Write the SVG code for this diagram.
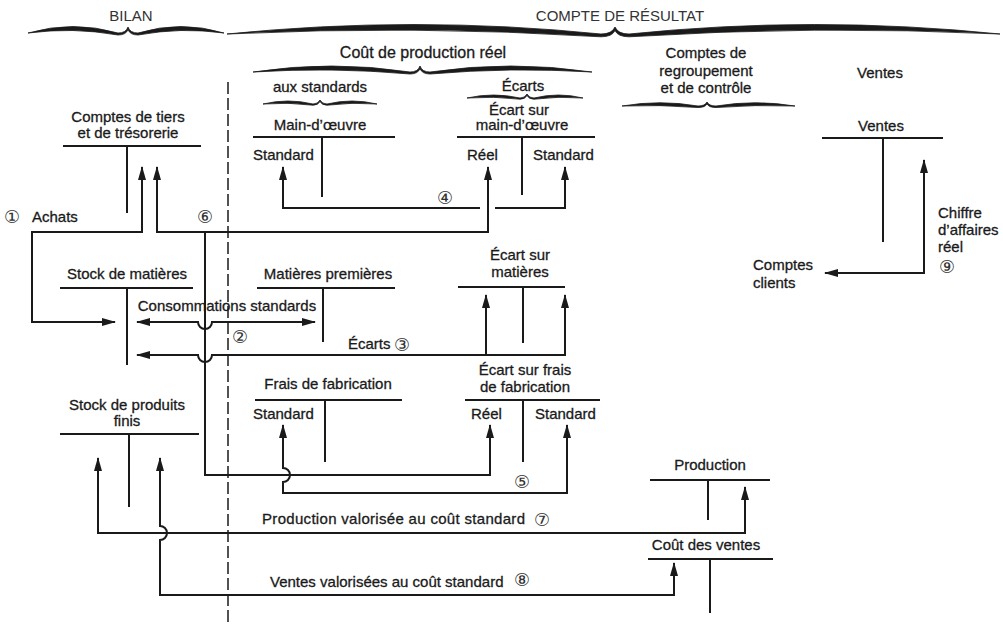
<svg xmlns="http://www.w3.org/2000/svg" width="1003" height="624" viewBox="0 0 1003 624">
<defs>
<style>
text{font-family:"Liberation Sans",Arial,sans-serif;font-size:15px;fill:#1a1a1a;stroke:#1a1a1a;stroke-width:0.3}
.hd{font-size:15px;fill:#333;stroke:none}
.c{text-anchor:middle}
.n{font-family:"DejaVu Sans",sans-serif;font-size:18px;text-anchor:middle;fill:#333;stroke:none}
.ln{stroke:#1a1a1a;stroke-width:2;fill:none}
.cn{stroke:#1a1a1a;stroke-width:2;fill:none;marker-start:url(#ah);marker-end:url(#ah)}
.ce{stroke:#1a1a1a;stroke-width:2;fill:none;marker-end:url(#ah)}
.br{fill:#1a1a1a;stroke:#1a1a1a;stroke-width:0.8}
</style>
<marker id="ah" viewBox="0 0 14 8" refX="13" refY="4" markerWidth="14" markerHeight="8" markerUnits="userSpaceOnUse" orient="auto-start-reverse"><path d="M0,0 L14,4 L0,8 Z" fill="#1a1a1a"/></marker>
</defs>
<rect width="1003" height="624" fill="#fff"/>

<g id="headers">
<text class="hd c" x="131" y="21">BILAN</text>
<text class="hd c" x="620" y="21">COMPTE DE RÉSULTAT</text>
<path class="br" d="M28,33 Q73,20 118,33 Q126,33 128,27 Q130,33 138,33 Q181,20 224,33 Q181,27 138,35 Q130,35 128,29.6 Q126,35 118,35 Q73,27 28,33 Z"/>
<path class="br" d="M227,34 Q414,15 601,34 Q612,34 615,27 Q618,34 629,34 Q814.5,15 1000,34 Q814.5,25 629,36.8 Q618,36.8 615,30.6 Q612,36.8 601,36.8 Q414,25 227,34 Z"/>
<text class="c" x="423" y="58" style="font-size:16px">Coût de production réel</text>
<path class="br" d="M253,72 Q331.5,60 410,72 Q418,72 420,66 Q422,72 430,72 Q511,60 592,72 Q511,67 430,74 Q422,74 420,68.6 Q418,74 410,74 Q331.5,67 253,72 Z"/>
<text class="c" x="320" y="92">aux standards</text>
<path class="br" d="M263,104 Q288,98 313,104 Q318,104 320,100 Q322,104 327,104 Q352,98 377,104 Q352,102 327,105.2 Q322,105.2 320,101.6 Q318,105.2 313,105.2 Q288,102 263,104 Z"/>
<text class="c" x="523" y="91">Écarts</text>
<path class="br" d="M467,98 Q493.5,92 520,98 Q525,98 527,94 Q529,98 534,98 Q558.5,92 583,98 Q558.5,96 534,99.2 Q529,99.2 527,95.6 Q525,99.2 520,99.2 Q493.5,96 467,98 Z"/>
<text class="c" x="706" y="58">Comptes de</text>
<text class="c" x="706" y="76">regroupement</text>
<text class="c" x="706" y="93">et de contrôle</text>
<path class="br" d="M622,106 Q660,99.5 698,106 Q705,106 707,102 Q709,106 716,106 Q755.5,99.5 795,106 Q755.5,104.5 716,107.5 Q709,107.5 707,104 Q705,107.5 698,107.5 Q660,104.5 622,106 Z"/>
<text class="c" x="880" y="78">Ventes</text>
<line x1="228" y1="82" x2="228" y2="624" stroke="#1a1a1a" stroke-width="1.5" stroke-dasharray="12,4"/>
</g>

<g id="tiers">
<text class="c" x="128" y="122">Comptes de tiers</text>
<text class="c" x="128" y="138">et de trésorerie</text>
<path class="ln" d="M63,146 H201 M127,146 V213"/>
</g>
<g id="stock-matieres">
<text class="c" x="127" y="279">Stock de matières</text>
<path class="ln" d="M60,288 H193 M127,288 V365"/>
</g>
<g id="stock-produits-finis">
<text class="c" x="127" y="410">Stock de produits</text>
<text class="c" x="127" y="426">finis</text>
<path class="ln" d="M60,434 H199 M129,434 V507"/>
</g>
<g id="main-oeuvre">
<text class="c" x="320" y="130">Main-d’œuvre</text>
<text x="253" y="160">Standard</text>
<path class="ln" d="M253,137 H395 M322,137 V197"/>
</g>
<g id="ecart-main-oeuvre">
<text class="c" x="519" y="115">Écart sur</text>
<text class="c" x="522" y="130">main-d’œuvre</text>
<text x="467" y="160">Réel</text>
<text x="533" y="160">Standard</text>
<path class="ln" d="M457,137 H595 M522,137 V195"/>
</g>
<g id="matieres-premieres">
<text class="c" x="328" y="279">Matières premières</text>
<path class="ln" d="M257,288 H395 M323,288 V342"/>
</g>
<g id="ecart-matieres">
<text class="c" x="520" y="260">Écart sur</text>
<text class="c" x="520" y="277">matières</text>
<path class="ln" d="M458,287 H565 M523,287 V343"/>
</g>
<g id="frais-fabrication">
<text class="c" x="328" y="389">Frais de fabrication</text>
<text x="253" y="419">Standard</text>
<path class="ln" d="M255,400 H402 M325,400 V462"/>
</g>
<g id="ecart-frais-fabrication">
<text class="c" x="525" y="375">Écart sur frais</text>
<text class="c" x="525" y="392">de fabrication</text>
<text x="471" y="419">Réel</text>
<text x="535" y="419">Standard</text>
<path class="ln" d="M465,400 H600 M523,400 V462"/>
</g>
<g id="production">
<text class="c" x="710" y="470">Production</text>
<path class="ln" d="M650,480 H770 M708,480 V520"/>
</g>
<g id="cout-ventes">
<text class="c" x="706" y="550">Coût des ventes</text>
<path class="ln" d="M648,559 H773 M710,559 V613"/>
</g>
<g id="ventes">
<text class="c" x="881" y="131">Ventes</text>
<path class="ln" d="M822,138 H943 M883,138 V242"/>
</g>
<g id="comptes-clients">
<text x="753" y="270">Comptes</text>
<text x="753" y="288">clients</text>
</g>

<g id="connectors">
<path class="cn" d="M142,167 L142,232 L32,232 L32,322 L115,322"/>
<text class="n" x="12" y="223">①</text>
<text x="32" y="222">Achats</text>
<path class="cn" d="M157,167 L157,232 L488,232 L488,167"/>
<path class="ce" d="M205,232 L205,475 L490,475 L490,425"/>
<text class="n" x="205" y="223">⑥</text>
<path class="cn" d="M137,322 L198,322 A7,7 0 0 0 212,322 L315,322"/>
<text class="c" x="227" y="311">Consommations standards</text>
<text class="n" x="240" y="343">②</text>
<path class="cn" d="M137,355 L198,355 A7,7 0 0 0 212,355 L565,355 L565,295"/>
<path class="ce" d="M486,355 L486,295"/>
<text x="348" y="349">Écarts</text>
<text class="n" x="402" y="351">③</text>
<path class="cn" d="M283,167 L283,208 L480,208 M495,208 L565,208 L565,167"/>
<text class="n" x="445" y="204">④</text>
<path class="cn" d="M283,425 L283,468 A7,7 0 0 1 283,482 L283,493 L567,493 L567,425"/>
<text class="n" x="522" y="488">⑤</text>
<path class="cn" d="M98,458 L98,533 L745,533 L745,487"/>
<text x="262" y="524" textLength="263" lengthAdjust="spacing">Production valorisée  au coût standard</text>
<text class="n" x="542" y="526">⑦</text>
<path class="cn" d="M160,458 L160,526 A7,7 0 0 1 160,540 L160,595 L674,595 L674,563"/>
<text x="270" y="587">Ventes valorisées au coût standard</text>
<text class="n" x="522" y="586">⑧</text>
<path class="cn" d="M924,160 L924,273 L825,273"/>
<text x="938" y="218">Chiffre</text>
<text x="938" y="235">d’affaires</text>
<text x="938" y="252">réel</text>
<text class="n" x="947" y="273">⑨</text>
</g>
</svg>
